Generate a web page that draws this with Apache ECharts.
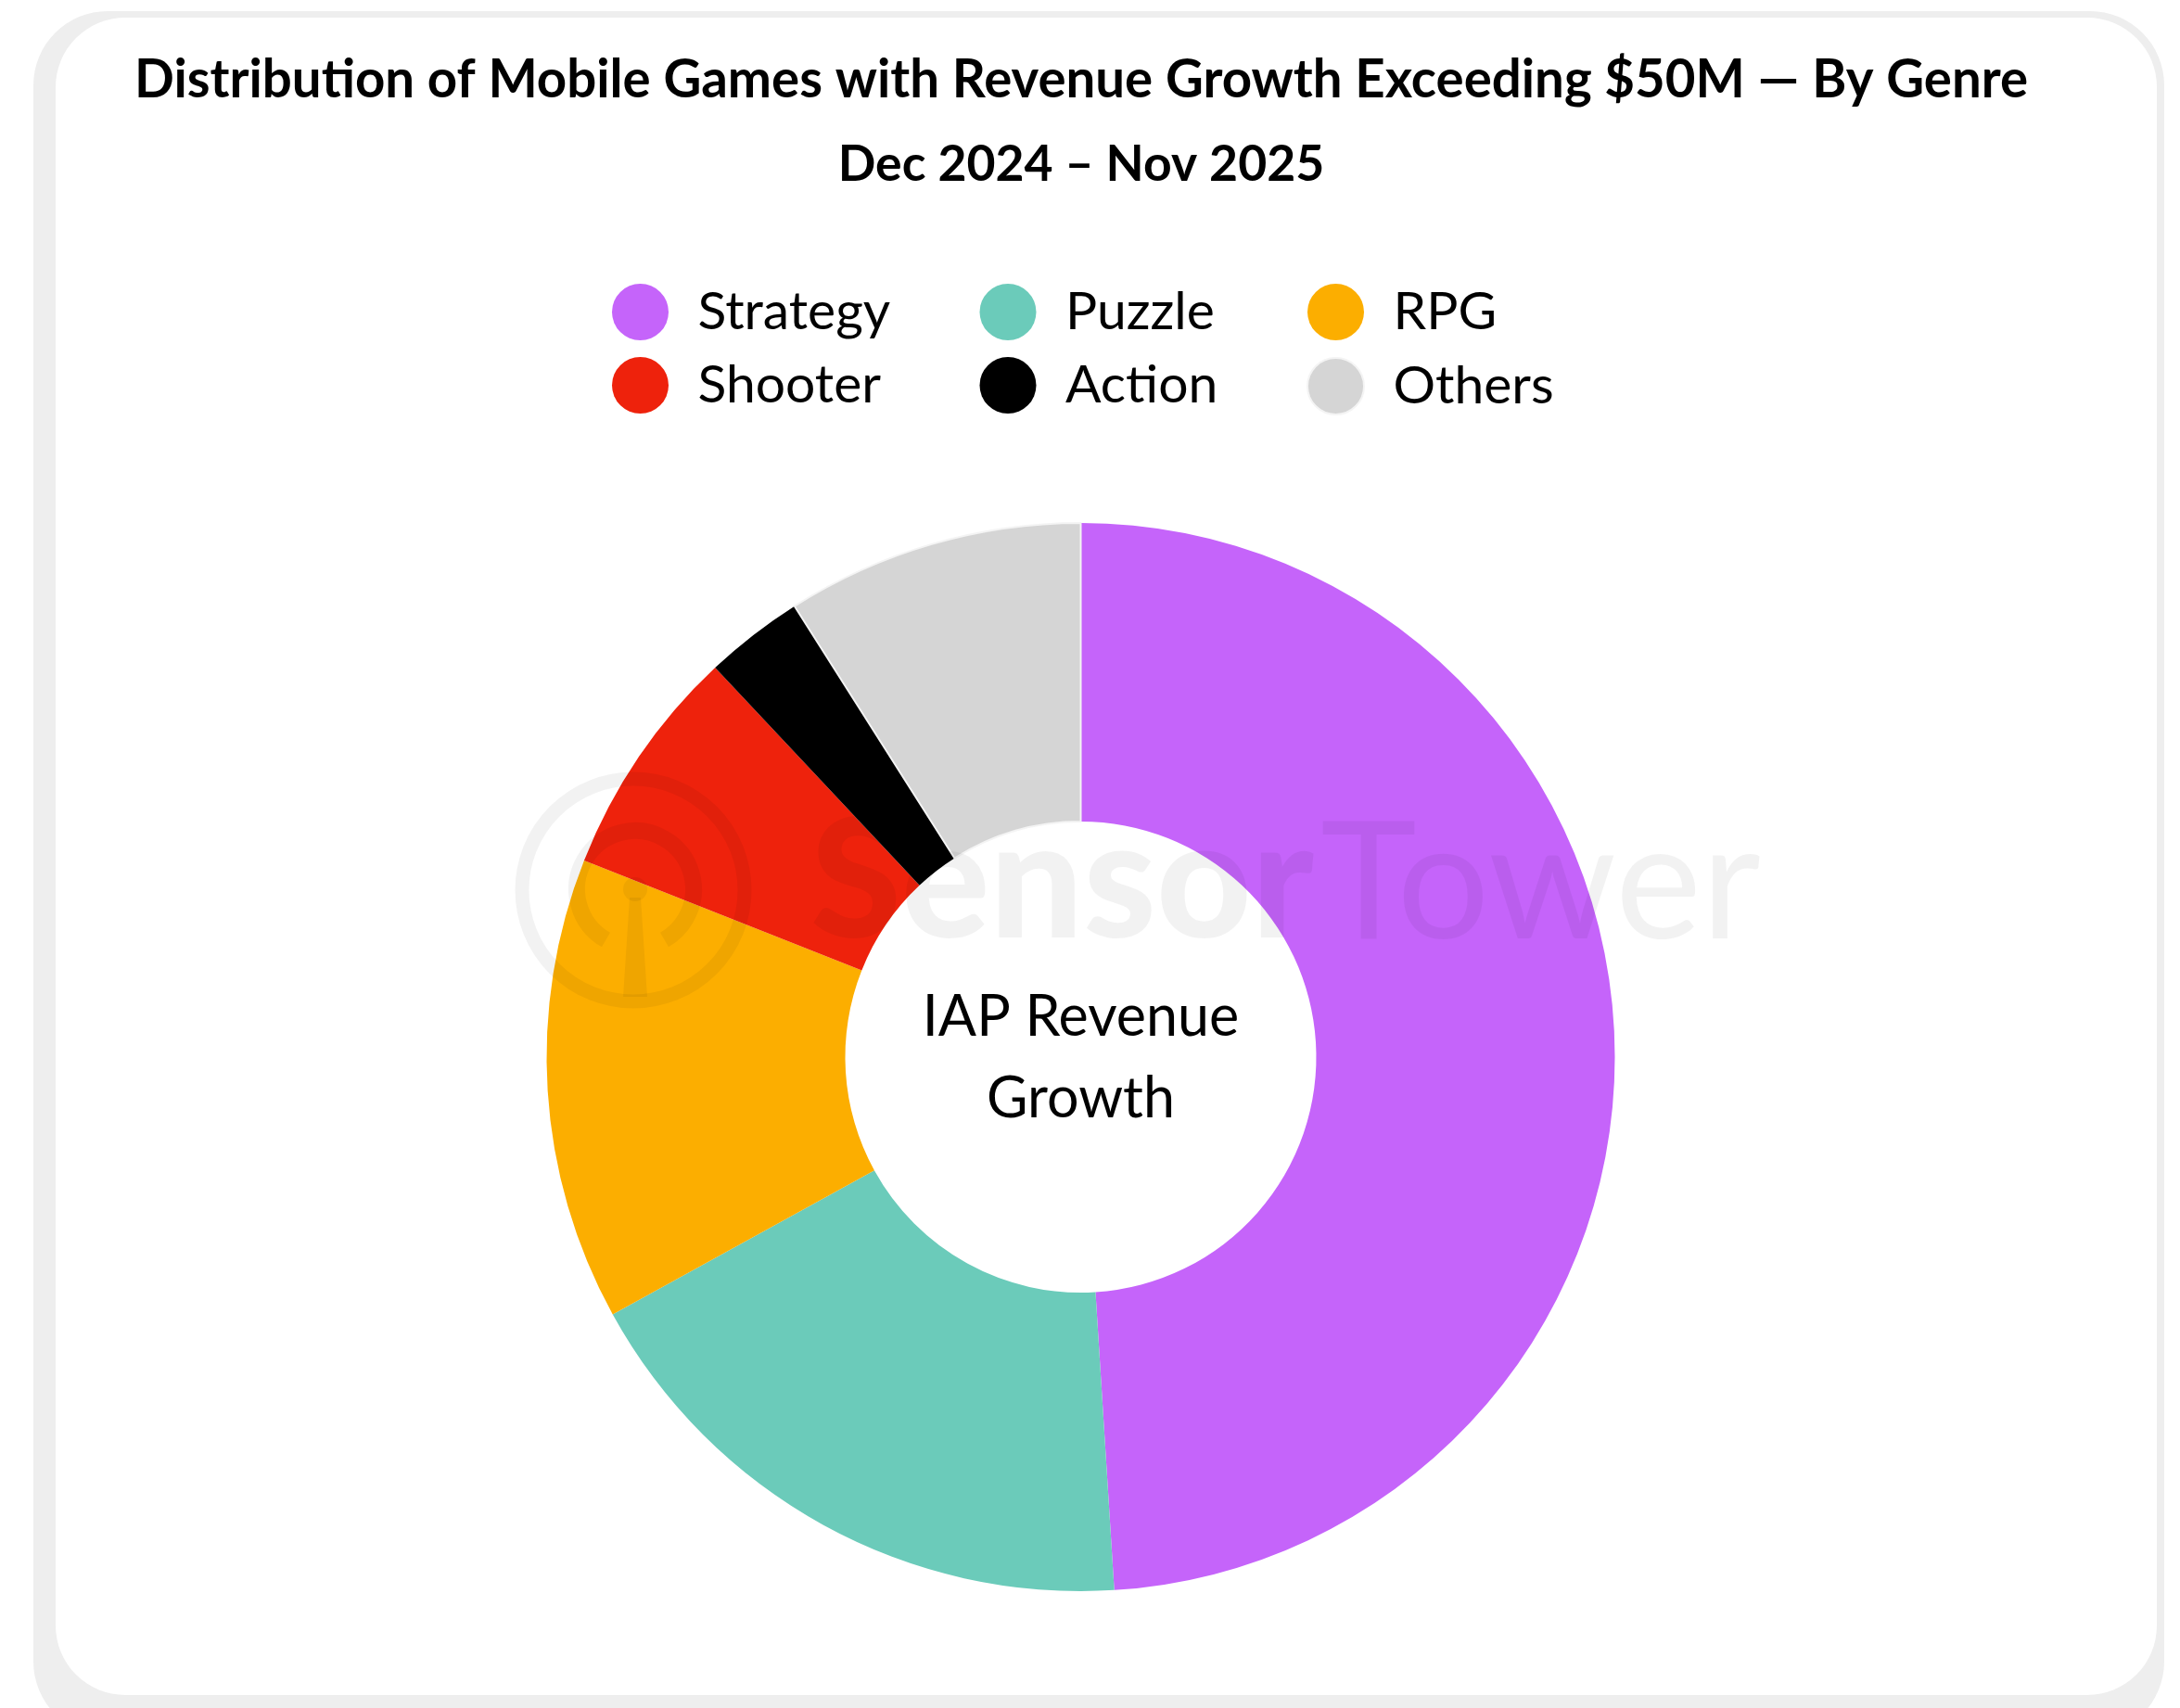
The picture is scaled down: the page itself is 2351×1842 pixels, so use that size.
<!DOCTYPE html>
<html>
<head>
<meta charset="utf-8">
<script src="https://cdn.jsdelivr.net/npm/echarts@6/dist/echarts.min.js"></script>
<style>
  html, body { margin: 0; padding: 0; background: #ffffff; }
  #chart { width: 2351px; height: 1842px; }
</style>
</head>
<body>
<div id="chart"></div>
<script>
// Genre share of IAP revenue growth (percent)
const genres = ['Strategy', 'Puzzle', 'RPG', 'Shooter', 'Action', 'Others'];
const shares = [49, 18, 14, 7, 3, 9];
const genreColors = ['#C564FA', '#6BCBBA', '#FCAE00', '#EE220C', '#000000', '#D5D5D5'];

// Legend is laid out as three columns of two entries
const legendColumns = [['Strategy', 'Shooter'], ['Puzzle', 'Action'], ['RPG', 'Others']];

const titleText = 'Distribution of Mobile Games with Revenue Growth Exceeding $50M \u2014 By Genre';
const subtitleText = 'Dec 2024 \u2013 Nov 2025';
const centerText = 'IAP Revenue\nGrowth';
const watermarkBold = 'Sensor';
const watermarkLight = 'Tower';

const FONT = 'Lato, "Noto Sans", sans-serif';
const CX = 1165.5, CY = 1140;

const chart = echarts.init(document.getElementById('chart'), null, { renderer: 'canvas' });

const columnLefts = [660, 1056.5, 1409];
const legends = legendColumns.map((col, i) => ({
  data: col,
  orient: 'vertical',
  left: columnLefts[i],
  top: 306,
  padding: 0,
  itemGap: 18,
  itemWidth: 114,
  itemHeight: 61,
  icon: 'circle',
  selectedMode: false,
  textStyle: { fontFamily: FONT, fontSize: 57, color: '#000000', lineHeight: 61 }
}));

const wmStyle = { fill: '#000000', opacity: 0.05 };

chart.setOption({
  animation: false,
  color: genreColors,
  legend: legends,
  graphic: [
    // card frame
    { type: 'rect', z: -10, shape: { x: 36, y: 12, width: 2298, height: 1860, r: 80 }, style: { fill: '#EEEEEE' } },
    { type: 'rect', z: -9, shape: { x: 60, y: 19, width: 2266, height: 1809, r: 75 }, style: { fill: '#FFFFFF' } },
    // headings
    { type: 'text', z: 5, style: { text: titleText, x: 1166, y: 87, align: 'center', verticalAlign: 'middle',
        fontFamily: FONT, fontWeight: 'bold', fontSize: 56.4, fill: '#000000' } },
    { type: 'text', z: 5, style: { text: subtitleText, x: 1166, y: 178, align: 'center', verticalAlign: 'middle',
        fontFamily: FONT, fontWeight: 'bold', fontSize: 53.5, fill: '#000000' } },
    // donut hole caption
    { type: 'text', z: 5, style: { text: centerText, x: CX, y: CY + 1, align: 'center', verticalAlign: 'middle',
        fontFamily: FONT, fontSize: 61, lineHeight: 88, fill: '#000000' } },
    // watermark logo
    { type: 'circle', z: 20, shape: { cx: 683, cy: 960, r: 120 }, style: { fill: null, stroke: '#000000', lineWidth: 15, opacity: 0.05 } },
    { type: 'arc', z: 20, shape: { cx: 685, cy: 959, r: 63, startAngle: Math.PI * 2 / 3, endAngle: Math.PI / 3 + Math.PI * 2, clockwise: true },
      style: { fill: null, stroke: '#000000', lineWidth: 18, opacity: 0.05 } },
    { type: 'circle', z: 20, shape: { cx: 685, cy: 959, r: 13 }, style: wmStyle },
    { type: 'polygon', z: 20, shape: { points: [[679, 968], [691, 968], [698, 1075], [672, 1075]] }, style: wmStyle },
    { type: 'text', z: 20, style: { text: watermarkBold, x: 874, y: 954, align: 'left', verticalAlign: 'middle',
        fontFamily: FONT, fontWeight: 900, fontSize: 178, fill: '#000000', opacity: 0.05 } },
    { type: 'text', z: 20, style: { text: watermarkLight, x: 1424, y: 955, align: 'left', verticalAlign: 'middle',
        fontFamily: FONT, fontWeight: 'normal', fontSize: 176, fill: '#000000', opacity: 0.05 } }
  ],
  series: [{
    type: 'pie',
    center: [CX, CY],
    radius: [254, 576],
    startAngle: 90,
    clockwise: true,
    silent: true,
    label: { show: false },
    labelLine: { show: false },
    data: genres.map((g, i) => ({
      name: g,
      value: shares[i],
      itemStyle: g === 'Others' ? { borderColor: '#F4F4F4', borderWidth: 2 } : { borderWidth: 0 }
    }))
  }]
});
</script>
</body>
</html>
